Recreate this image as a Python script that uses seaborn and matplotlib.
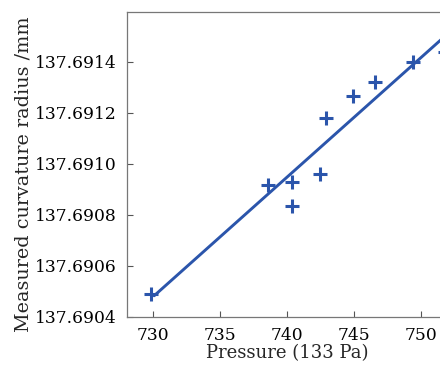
import matplotlib
matplotlib.use("Agg")
import matplotlib.pyplot as plt
import matplotlib.ticker as mticker
import seaborn as sns
import pandas as pd

pressure = [729.85, 738.55, 740.4, 740.4, 742.45, 742.92, 744.97, 746.59, 749.43, 751.8]
radius = [137.690489, 137.690917, 137.690928, 137.690835, 137.690961,
          137.691178, 137.691264, 137.691322, 137.691398, 137.691440]

# Fitted line end points
fit_pressure = [730.05, 753.0]
fit_radius = [137.690482, 137.691555]

x_ticks = [730, 735, 740, 745, 750]
y_ticks = [137.6904, 137.6906, 137.6908, 137.6910, 137.6912, 137.6914]

sns.set_theme(style="white")
plt.rcParams['font.family'] = ['DejaVu Serif']
plt.rcParams['mathtext.fontset'] = 'dejavuserif'

blue = "#2b55ab"

fig = plt.figure(figsize=(4.4, 3.66), dpi=100)
ax = fig.add_axes([0.288, 0.1347, 0.730, 0.8325])

df_pts = pd.DataFrame({"p": pressure, "r": radius})
df_fit = pd.DataFrame({"p": fit_pressure, "r": fit_radius})

sns.lineplot(data=df_fit, x="p", y="r", ax=ax, color=blue, linewidth=2.1)
sns.scatterplot(data=df_pts, x="p", y="r", ax=ax, marker="+", s=100,
                color=blue, linewidth=2.2, zorder=3)

ax.set_xlim(728.0, 752.05)
ax.set_ylim(137.6904, 137.691595)
ax.set_xticks(x_ticks)
ax.set_yticks(y_ticks)
ax.yaxis.set_major_formatter(mticker.FormatStrFormatter('%.4f'))

ax.set_xlabel("Pressure (133 Pa)", fontsize=13, labelpad=0)
ax.set_ylabel("Measured curvature radius /mm", fontsize=13.8)
ax.yaxis.set_label_coords(-0.292, 0.468)
ax.tick_params(axis='both', which='major', direction='in', length=4, width=0.8,
               colors='#555555', labelcolor='black', labelsize=12.3, pad=7.5,
               bottom=True, left=True)

for side, sp in ax.spines.items():
    sp.set_color('#777777')
    sp.set_linewidth(0.9)
ax.spines['right'].set_visible(False)

fig.savefig("out.png", dpi=100)
